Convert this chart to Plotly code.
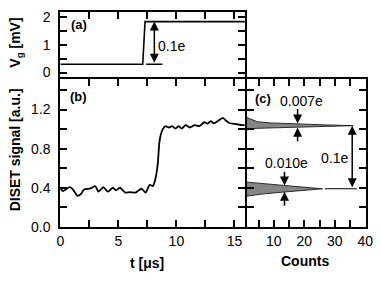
import plotly.graph_objects as go

# ---------------- data ----------------
# panel (a): gate voltage step
t_a = [0, 7.1, 7.3, 15.9]
vg_a = [0.30, 0.30, 1.84, 1.84]

# panel (b): DISET signal
t_b = [0, 0.25, 0.8, 1.08, 1.49, 1.77, 2.04, 2.6, 3.0, 3.29, 3.7, 4.1, 4.53, 4.8,
       5.14, 5.6, 6.0, 6.46, 7.0, 7.35, 7.7, 7.98, 8.1, 8.26, 8.4, 8.53, 8.67,
       8.86, 9.08, 9.36, 9.64, 9.92, 10.19, 10.46, 10.8, 11.16, 11.57, 11.99,
       12.4, 12.68, 12.95, 13.23, 13.64, 14.0, 14.33, 14.6, 15.16, 15.7, 15.9]
sig_b = [0.39, 0.367, 0.406, 0.384, 0.318, 0.335, 0.383, 0.393, 0.416, 0.36,
         0.406, 0.36, 0.40, 0.374, 0.40, 0.35, 0.355, 0.35, 0.39, 0.35, 0.43,
         0.416, 0.45, 0.53, 0.65, 0.86, 0.95, 1.006, 1.03, 1.016, 1.03, 1.006,
         1.03, 1.006, 1.04, 1.016, 1.04, 1.03, 1.07, 1.055, 1.08, 1.06, 1.088,
         1.114, 1.08, 1.06, 1.05, 1.04, 1.04]

# panel (c): histograms of the two levels
hist_top_y = [0.985, 0.992, 1.008, 1.019, 1.027, 1.035, 1.043, 1.051, 1.063,
              1.075, 1.090, 1.107, 1.120, 1.130]
hist_top_n = [0, 2, 4.6, 17, 27, 36, 27, 17, 9, 4.6, 3, 2, 1, 0]
hist_bot_y = [0.31, 0.32, 0.335, 0.35, 0.36, 0.37, 0.38, 0.39, 0.40, 0.41,
              0.42, 0.43, 0.445, 0.455, 0.465]
hist_bot_n = [0, 2, 6, 11, 15, 18, 22, 26, 22, 18, 15, 11, 6, 2, 0]

# level positions / widths used for annotations
level_hi = 1.035
level_lo = 0.39
width_hi = 0.045   # 0.007e in a.u.
width_lo = 0.064   # 0.010e in a.u.

FONT = "Arial, Liberation Sans, sans-serif"
BLACK = "#000000"
W, H = 382, 287
LW = 2

fig = go.Figure()

fig.add_trace(go.Scatter(x=t_a, y=vg_a, mode="lines", xaxis="x", yaxis="y",
                         line=dict(color=BLACK, width=1.6), showlegend=False))
fig.add_trace(go.Scatter(x=t_b, y=sig_b, mode="lines", xaxis="x2", yaxis="y2",
                         line=dict(color=BLACK, width=1.8, shape="spline", smoothing=0.6),
                         showlegend=False))
for hy, hn in ((hist_top_y, hist_top_n), (hist_bot_y, hist_bot_n)):
    fig.add_trace(go.Scatter(x=hn, y=hy, mode="lines", xaxis="x3", yaxis="y3",
                             fill="tozerox", fillcolor="#858585",
                             line=dict(color="#2a2a2a", width=1), showlegend=False))

ax_common = dict(showline=True, linecolor=BLACK, linewidth=LW, mirror="allticks",
                 ticks="inside", ticklen=7, tickwidth=1.5, tickcolor=BLACK,
                 showgrid=False, zeroline=False,
                 tickfont=dict(family=FONT, size=14, color=BLACK))
minor_common = dict(ticks="inside", ticklen=7, tickwidth=1.5, tickcolor=BLACK)

# domains (pixels -> paper); neighbouring panels offset by the line width so
# their border lines coincide
X_L, X_M, X_R = 58 / W, 248 / W, 373 / W
X_M2 = (248 + LW) / W
Y_T = (H - 10) / H
Y_M = (H - 80) / H
Y_M2 = (H - 80 + LW) / H
Y_B = (H - 233) / H

fig.update_layout(
    width=W, height=H,
    margin=dict(l=0, r=0, t=0, b=0),
    paper_bgcolor="white", plot_bgcolor="white",
    font=dict(family=FONT, size=14, color=BLACK),
    xaxis=dict(ax_common, domain=[X_L, X_M], range=[0, 15.9], anchor="y", side="top",
               mirror=True, tickvals=[2.5, 5, 7.5, 10, 12.5, 15], showticklabels=False),
    yaxis=dict(ax_common, domain=[Y_M2, Y_T], range=[-0.17, 2.2], anchor="x",
               tickvals=[0, 1, 2], ticklabelstandoff=5,
               minor=dict(minor_common, tickvals=[0.5, 1.5])),
    xaxis2=dict(ax_common, domain=[X_L, X_M], range=[0, 15.9], anchor="y2",
                tickvals=[0, 5, 10, 15],
                minor=dict(minor_common, tickvals=[2.5, 7.5, 12.5])),
    yaxis2=dict(ax_common, domain=[Y_B, Y_M], range=[0, 1.51], anchor="x2",
                tickvals=[0, 0.4, 0.8, 1.2], tickformat=".1f", ticklabelstandoff=5,
                minor=dict(minor_common, tickvals=[0.2, 0.6, 1.0, 1.4])),
    xaxis3=dict(ax_common, domain=[X_M2, X_R], range=[1.15, 40.3], anchor="y3",
                tickvals=[10, 20, 30, 40],
                minor=dict(minor_common, tickvals=[5, 15, 25, 35])),
    yaxis3=dict(ax_common, domain=[Y_B, Y_M], range=[0, 1.51], anchor="x3",
                tickvals=[0.2, 0.4, 0.6, 0.8, 1.0, 1.2, 1.4], showticklabels=False),
)

# horizontal reference segments
fig.add_shape(type="line", xref="x", yref="y", x0=7.4, x1=8.8,
              y0=vg_a[0], y1=vg_a[0], line=dict(color=BLACK, width=1.5))
fig.add_shape(type="line", xref="x3", yref="y3", x0=26.7, x1=37.2,
              y0=level_lo, y1=level_lo, line=dict(color=BLACK, width=1.2))

arrow = dict(showarrow=True, arrowhead=2, arrowsize=1.2, arrowwidth=1.5,
             arrowcolor=BLACK, text="")
# panel (a) double arrow
fig.add_annotation(arrow, x=8.1, y=vg_a[-1], ax=8.1, ay=vg_a[0], xref="x", yref="y",
                   axref="x", ayref="y", arrowside="end+start")
# panel (c) 0.1e double arrow
fig.add_annotation(arrow, x=35.7, y=level_hi, ax=35.7, ay=level_lo, xref="x3", yref="y3",
                   axref="x3", ayref="y3", arrowside="end+start")
# width arrows, upper peak
fig.add_annotation(arrow, x=17.8, y=level_hi + width_hi / 2, ax=17.8, ay=1.22,
                   xref="x3", yref="y3", axref="x3", ayref="y3")
fig.add_annotation(arrow, x=17.8, y=level_hi - width_hi / 2, ax=17.8, ay=0.86,
                   xref="x3", yref="y3", axref="x3", ayref="y3")
# width arrows, lower peak
fig.add_annotation(arrow, x=13.5, y=level_lo + width_lo / 2, ax=13.5, ay=0.58,
                   xref="x3", yref="y3", axref="x3", ayref="y3")
fig.add_annotation(arrow, x=13.5, y=level_lo - width_lo / 2, ax=13.5, ay=0.20,
                   xref="x3", yref="y3", axref="x3", ayref="y3")

txt = dict(showarrow=False, font=dict(family=FONT, size=14, color=BLACK),
           xanchor="center", yanchor="middle")
bold = dict(showarrow=False, font=dict(family=FONT, size=13, color=BLACK),
            xanchor="center", yanchor="middle")
fig.add_annotation(bold, x=1.6, y=1.72, xref="x", yref="y", text="<b>(a)</b>")
fig.add_annotation(txt, x=9.6, y=0.96, xref="x", yref="y", text="0.1e")
fig.add_annotation(bold, x=1.6, y=1.33, xref="x2", yref="y2", text="<b>(b)</b>")
fig.add_annotation(bold, x=6.4, y=1.31, xref="x3", yref="y3", text="<b>(c)</b>")
fig.add_annotation(txt, x=19.0, y=1.29, xref="x3", yref="y3", text="0.007e")
fig.add_annotation(txt, x=14.0, y=0.65, xref="x3", yref="y3", text="0.010e")
fig.add_annotation(txt, x=30.0, y=0.70, xref="x3", yref="y3", text="0.1e")

# axis titles
tl = dict(showarrow=False, xref="paper", yref="paper", xanchor="center", yanchor="middle",
          font=dict(family=FONT, size=14, color=BLACK))
fig.add_annotation(tl, x=11.5 / W, y=(H - 42) / H,
                   text="<b>V<sub>g</sub> [mV]</b>", textangle=-90)
fig.add_annotation(tl, x=11 / W, y=(H - 153) / H,
                   text="<b>DISET signal [a.u.]</b>", textangle=-90)
fig.add_annotation(tl, x=147 / W, y=(H - 270) / H, text="<b>t [μs]</b>")
fig.add_annotation(tl, x=310 / W, y=(H - 268) / H, text="<b>Counts</b>")

fig.write_html("out.html", config={"displayModeBar": False},
               post_script="document.body.style.margin='0px';")
